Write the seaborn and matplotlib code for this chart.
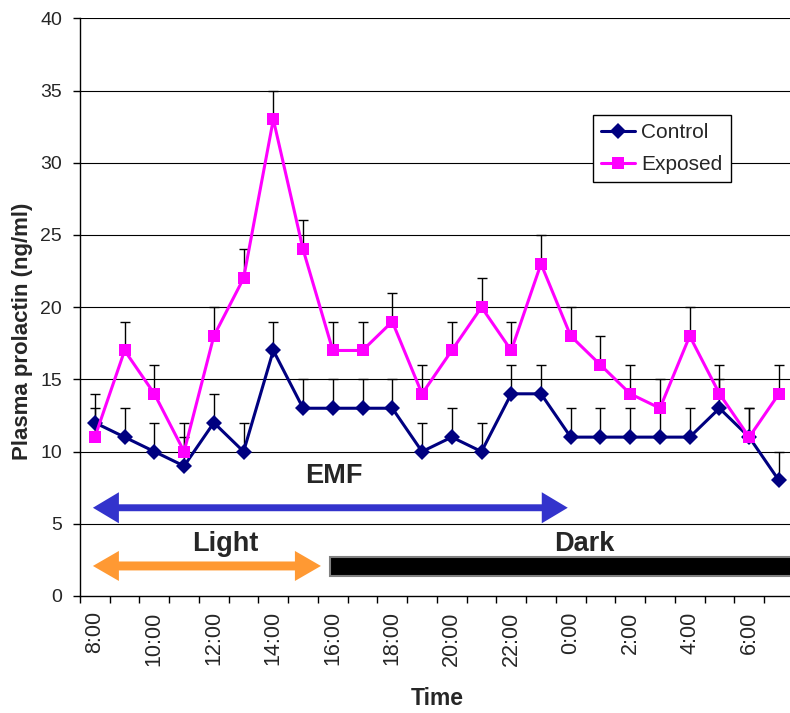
import numpy as np
import pandas as pd
import matplotlib
matplotlib.use("Agg")
import matplotlib.pyplot as plt
import seaborn as sns
from matplotlib.patches import Polygon, Rectangle

# ---------------- data ----------------
times = ['8:00', '9:00', '10:00', '11:00', '12:00', '13:00', '14:00', '15:00',
         '16:00', '17:00', '18:00', '19:00', '20:00', '21:00', '22:00', '23:00',
         '0:00', '1:00', '2:00', '3:00', '4:00', '5:00', '6:00', '7:00']
control = [12, 11, 10, 9, 12, 10, 17, 13, 13, 13, 13, 10, 11, 10, 14, 14,
           11, 11, 11, 11, 11, 13, 11, 8]
control_err = [2, 2, 2, 2, 2, 2, 2, 2, 2, 2, 2, 2, 2, 2, 2, 2,
               2, 2, 2, 2, 2, 2, 2, 2]
exposed = [11, 17, 14, 10, 18, 22, 33, 24, 17, 17, 19, 14, 17, 20, 17, 23,
           18, 16, 14, 13, 18, 14, 11, 14]
exposed_err = [2, 2, 2, 2, 2, 2, 2, 2, 2, 2, 2, 2, 2, 2, 2, 2,
               2, 2, 2, 2, 2, 2, 2, 2]
groups = ['Control', 'Exposed']
y_ticks = [0, 5, 10, 15, 20, 25, 30, 35, 40]

pos = np.arange(len(times))
df = pd.DataFrame({
    'pos': np.concatenate([pos, pos]),
    'time': times + times,
    'value': control + exposed,
    'err': control_err + exposed_err,
    'group': ['Control'] * len(times) + ['Exposed'] * len(times),
})

# ---------------- style ----------------
sns.set_style("white")
plt.rcParams['font.family'] = ['Liberation Sans', 'DejaVu Sans']

fig = plt.figure(figsize=(7.9, 7.13), dpi=100)
ax = fig.add_axes([80 / 790, 117 / 713, 713.8 / 790, 577.7 / 713])

palette = {'Control': '#000080', 'Exposed': '#FF00FF'}
markers = {'Control': 'D', 'Exposed': 's'}

# error bars (plus only)
for g in groups:
    sub = df[df['group'] == g]
    ax.errorbar(sub['pos'], sub['value'],
                yerr=[np.zeros(len(sub)), sub['err'].values],
                fmt='none', ecolor='black', elinewidth=1.0,
                capsize=3.3, capthick=1.0, zorder=1.5)

sns.lineplot(data=df, x='pos', y='value', hue='group', style='group',
             hue_order=groups, style_order=groups,
             palette=palette, markers=markers, dashes=False,
             linewidth=2.2, markersize=8.5, markeredgewidth=0,
             ax=ax, zorder=3, legend=True)

# gridlines
ax.set_ylim(0, 40)
ax.set_xlim(-0.5, len(times) - 0.5)
ax.set_yticks(y_ticks)
for v in y_ticks[1:]:
    ax.axhline(v, color='black', lw=0.8, zorder=0.5)

# x ticks: marks at category boundaries, labels every other category
ax.set_xticks(np.arange(-0.5, len(times), 1.0))
ax.set_xticklabels([])
ax.set_xticks(pos[::2], minor=True)
ax.set_xticklabels(times[::2], minor=True, rotation=90)
ax.tick_params(axis='x', which='major', length=5, width=1, color='black',
               direction='out', bottom=True)
ax.tick_params(axis='x', which='minor', length=0, pad=11, labelsize=15.5)
ax.tick_params(axis='y', length=5, width=1, color='black', direction='out',
               left=True, pad=8, labelsize=14)

for s in ['top', 'right']:
    ax.spines[s].set_visible(False)
for s in ['left', 'bottom']:
    ax.spines[s].set_color('black')
    ax.spines[s].set_linewidth(1.0)

ax.set_xlabel('Time', fontsize=16.5, fontweight='bold')
ax.xaxis.set_label_coords(0.5, -0.158)
ax.set_ylabel('Plasma prolactin (ng/ml)', fontsize=16, fontweight='bold')
ax.yaxis.set_label_coords(-0.066, 0.459)

# annotations: double-headed arrows and the dark bar
def double_arrow(x0, x1, y, width, head_w, head_l, color):
    hw, w = head_w / 2, width / 2
    verts = [(x0, y), (x0 + head_l, y + hw), (x0 + head_l, y + w),
             (x1 - head_l, y + w), (x1 - head_l, y + hw), (x1, y),
             (x1 - head_l, y - hw), (x1 - head_l, y - w),
             (x0 + head_l, y - w), (x0 + head_l, y - hw)]
    ax.add_patch(Polygon(verts, closed=True, facecolor=color, lw=0,
                         zorder=4))

double_arrow(-0.066, 15.9, 6.11, 0.48, 2.15, 0.874, '#3333CC')
double_arrow(-0.066, 7.6, 2.08, 0.62, 2.08, 0.874, '#FF9933')
ax.add_patch(Rectangle((7.91, 1.41), 16.0, 1.31, facecolor='black',
                       edgecolor='#808080', lw=1.5, zorder=4))

ax.text(8.03, 7.8, 'EMF', ha='center', va='baseline', fontsize=19.5,
        fontweight='bold', zorder=5)
ax.text(4.40, 3.12, 'Light', ha='center', va='baseline', fontsize=19.5,
        fontweight='bold', zorder=5)
ax.text(16.44, 3.12, 'Dark', ha='center', va='baseline', fontsize=19.5,
        fontweight='bold', zorder=5)

# legend
handles, labels = ax.get_legend_handles_labels()
leg = ax.legend(handles, labels, loc='upper left',
                bbox_to_anchor=(593 / 790, 1 - 115 / 713),
                bbox_transform=fig.transFigure, borderaxespad=0,
                fontsize=15, frameon=True, fancybox=False, framealpha=1,
                edgecolor='black', handlelength=1.6, handletextpad=0.3,
                labelspacing=0.6, borderpad=0.4)
leg.get_frame().set_linewidth(1.0)
leg.set_zorder(6)

fig.savefig('out.png', dpi=100)
